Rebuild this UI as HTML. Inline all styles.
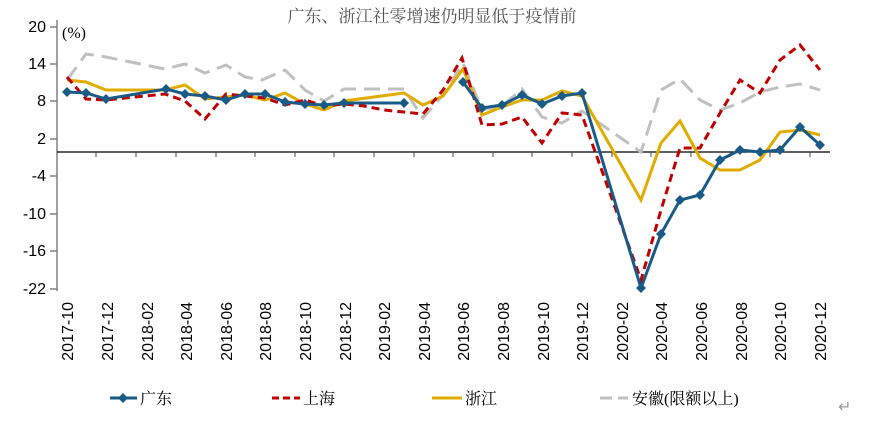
<!DOCTYPE html>
<html><head><meta charset="utf-8"><style>
html,body{margin:0;padding:0;background:#fff;}
svg{display:block;}
</style></head><body>
<svg width="876" height="424" xmlns="http://www.w3.org/2000/svg">
<text x="432" y="22" text-anchor="middle" font-family="Liberation Serif, Noto Serif CJK SC, serif" font-size="17" fill="#555">广东、浙江社零增速仍明显低于疫情前</text>
<text x="62" y="38" font-family="Liberation Serif, serif" font-size="16" fill="#000">(%)</text>
<g font-family="Liberation Sans, sans-serif" font-size="16" fill="#000" text-anchor="end">
<text x="46" y="32">20</text><text x="46" y="69">14</text><text x="46" y="106">8</text><text x="46" y="144">2</text>
<text x="46" y="181">-4</text><text x="46" y="219">-10</text><text x="46" y="256">-16</text><text x="46" y="294">-22</text>
</g>
<g stroke="#808080" stroke-width="1.5">
<line x1="57" y1="20" x2="57" y2="291"/>
<line x1="50" y1="27" x2="57" y2="27"/><line x1="50" y1="64" x2="57" y2="64"/><line x1="50" y1="101" x2="57" y2="101"/><line x1="50" y1="139" x2="57" y2="139"/>
<line x1="50" y1="176" x2="57" y2="176"/><line x1="50" y1="214" x2="57" y2="214"/><line x1="50" y1="251" x2="57" y2="251"/><line x1="50" y1="289" x2="57" y2="289"/>
</g>
<line x1="57" y1="152" x2="830" y2="152" stroke="#000" stroke-width="1.3"/>
<g stroke="#444" stroke-width="1">
<line x1="96" y1="152" x2="96" y2="157"/><line x1="136" y1="152" x2="136" y2="157"/><line x1="176" y1="152" x2="176" y2="157"/><line x1="216" y1="152" x2="216" y2="157"/><line x1="255" y1="152" x2="255" y2="157"/><line x1="295" y1="152" x2="295" y2="157"/><line x1="334" y1="152" x2="334" y2="157"/><line x1="374" y1="152" x2="374" y2="157"/><line x1="414" y1="152" x2="414" y2="157"/><line x1="453" y1="152" x2="453" y2="157"/><line x1="493" y1="152" x2="493" y2="157"/><line x1="532" y1="152" x2="532" y2="157"/><line x1="572" y1="152" x2="572" y2="157"/><line x1="612" y1="152" x2="612" y2="157"/><line x1="651" y1="152" x2="651" y2="157"/><line x1="691" y1="152" x2="691" y2="157"/><line x1="730" y1="152" x2="730" y2="157"/><line x1="770" y1="152" x2="770" y2="157"/><line x1="810" y1="152" x2="810" y2="157"/>
</g>
<g font-family="Liberation Sans, sans-serif" font-size="16" fill="#000" text-anchor="end">
<text transform="translate(73,302) rotate(-90)">2017-10</text>
<text transform="translate(113,302) rotate(-90)">2017-12</text>
<text transform="translate(153,302) rotate(-90)">2018-02</text>
<text transform="translate(192,302) rotate(-90)">2018-04</text>
<text transform="translate(232,302) rotate(-90)">2018-06</text>
<text transform="translate(271,302) rotate(-90)">2018-08</text>
<text transform="translate(311,302) rotate(-90)">2018-10</text>
<text transform="translate(351,302) rotate(-90)">2018-12</text>
<text transform="translate(390,302) rotate(-90)">2019-02</text>
<text transform="translate(430,302) rotate(-90)">2019-04</text>
<text transform="translate(469,302) rotate(-90)">2019-06</text>
<text transform="translate(509,302) rotate(-90)">2019-08</text>
<text transform="translate(549,302) rotate(-90)">2019-10</text>
<text transform="translate(588,302) rotate(-90)">2019-12</text>
<text transform="translate(628,302) rotate(-90)">2020-02</text>
<text transform="translate(667,302) rotate(-90)">2020-04</text>
<text transform="translate(707,302) rotate(-90)">2020-06</text>
<text transform="translate(747,302) rotate(-90)">2020-08</text>
<text transform="translate(786,302) rotate(-90)">2020-10</text>
<text transform="translate(826,302) rotate(-90)">2020-12</text>
</g>
<polyline fill="none" stroke="#c0c0c0" stroke-width="3" stroke-dasharray="16,8" points="67,80 86,54 106,57 145,65 165,69 185,64 205,73 226,65 245,77 262,80 285,70 305,90 324,101 344,89 364,89 404,89 423,118 443,95 463,63 482,110 502,106 522,89 542,117 562,123 582,111 641,152 661,90 680,79 700,100 720,110 740,103 760,92 780,87 800,84 820,90"/>
<polyline fill="none" stroke="#e0ac00" stroke-width="3" points="67,80 86,82 106,90 165,90 185,85 205,99 245,95 265,100 285,93 305,104 324,110 344,101 404,93 423,105 443,96 463,69 482,115 502,107 522,100 542,100 562,91 582,96 641,200 661,143 680,121 700,158 720,170 740,170 760,160 780,132 800,130 820,135"/>
<polyline fill="none" stroke="#c00000" stroke-width="3" stroke-dasharray="8,5" points="67,77 86,99 106,100 145,96 165,94 185,101 205,119 226,94 245,96 265,98 285,105 305,100 324,106 344,104 364,106 384,110 423,114 443,90 462,58 482,125 502,124 522,117 542,143 562,113 582,115 641,280 661,210 680,148 700,148 720,113 740,80 760,93 780,60 800,45 820,70"/>
<g fill="none" stroke="#1a5a87" stroke-width="3">
<polyline points="67,92 86,93 106,99 166,89 185,94 205,96 226,100 245,94 265,94 285,102 305,104 324,105 344,103 404,103"/>
<polyline points="463,82 482,108 502,105 522,95 542,104 562,96 582,93 641,288 661,234 680,200 700,195 720,160 740,150 760,152 780,150 800,127 820,145"/>
</g>
<g fill="#1a5a87">
<path d="M0,-5 L5,0 L0,5 L-5,0Z" transform="translate(67,92)"/>
<path d="M0,-5 L5,0 L0,5 L-5,0Z" transform="translate(86,93)"/><path d="M0,-5 L5,0 L0,5 L-5,0Z" transform="translate(106,99)"/><path d="M0,-5 L5,0 L0,5 L-5,0Z" transform="translate(166,89)"/><path d="M0,-5 L5,0 L0,5 L-5,0Z" transform="translate(185,94)"/><path d="M0,-5 L5,0 L0,5 L-5,0Z" transform="translate(205,96)"/><path d="M0,-5 L5,0 L0,5 L-5,0Z" transform="translate(226,100)"/><path d="M0,-5 L5,0 L0,5 L-5,0Z" transform="translate(245,94)"/><path d="M0,-5 L5,0 L0,5 L-5,0Z" transform="translate(265,94)"/><path d="M0,-5 L5,0 L0,5 L-5,0Z" transform="translate(285,102)"/><path d="M0,-5 L5,0 L0,5 L-5,0Z" transform="translate(305,104)"/><path d="M0,-5 L5,0 L0,5 L-5,0Z" transform="translate(324,105)"/><path d="M0,-5 L5,0 L0,5 L-5,0Z" transform="translate(344,103)"/><path d="M0,-5 L5,0 L0,5 L-5,0Z" transform="translate(404,103)"/>
<path d="M0,-5 L5,0 L0,5 L-5,0Z" transform="translate(463,82)"/><path d="M0,-5 L5,0 L0,5 L-5,0Z" transform="translate(482,108)"/><path d="M0,-5 L5,0 L0,5 L-5,0Z" transform="translate(502,105)"/><path d="M0,-5 L5,0 L0,5 L-5,0Z" transform="translate(522,95)"/><path d="M0,-5 L5,0 L0,5 L-5,0Z" transform="translate(542,104)"/><path d="M0,-5 L5,0 L0,5 L-5,0Z" transform="translate(562,96)"/><path d="M0,-5 L5,0 L0,5 L-5,0Z" transform="translate(582,93)"/><path d="M0,-5 L5,0 L0,5 L-5,0Z" transform="translate(641,288)"/><path d="M0,-5 L5,0 L0,5 L-5,0Z" transform="translate(661,234)"/><path d="M0,-5 L5,0 L0,5 L-5,0Z" transform="translate(680,200)"/><path d="M0,-5 L5,0 L0,5 L-5,0Z" transform="translate(700,195)"/><path d="M0,-5 L5,0 L0,5 L-5,0Z" transform="translate(720,160)"/><path d="M0,-5 L5,0 L0,5 L-5,0Z" transform="translate(740,150)"/><path d="M0,-5 L5,0 L0,5 L-5,0Z" transform="translate(760,152)"/><path d="M0,-5 L5,0 L0,5 L-5,0Z" transform="translate(780,150)"/><path d="M0,-5 L5,0 L0,5 L-5,0Z" transform="translate(800,127)"/><path d="M0,-5 L5,0 L0,5 L-5,0Z" transform="translate(820,145)"/>
</g>
<g font-family="Liberation Serif, Noto Serif CJK SC, serif" font-size="16" fill="#000">
<line x1="110" y1="398" x2="137" y2="398" stroke="#1a5a87" stroke-width="3"/>
<path d="M0,-5 L5,0 L0,5 L-5,0Z" transform="translate(123,398)" fill="#1a5a87"/>
<text x="140" y="404">广东</text>
<line x1="272" y1="398" x2="300" y2="398" stroke="#c00000" stroke-width="3" stroke-dasharray="7,4"/>
<text x="303" y="404">上海</text>
<line x1="432" y1="398" x2="462" y2="398" stroke="#e0ac00" stroke-width="3"/>
<text x="465" y="404">浙江</text>
<line x1="600" y1="398" x2="628" y2="398" stroke="#c0c0c0" stroke-width="3" stroke-dasharray="12,6"/>
<text x="632" y="404">安徽(限额以上)</text>
</g>
<text x="838" y="412" font-family="Liberation Sans, DejaVu Sans, sans-serif" font-size="16" fill="#999">↵</text>
</svg>
</body></html>
